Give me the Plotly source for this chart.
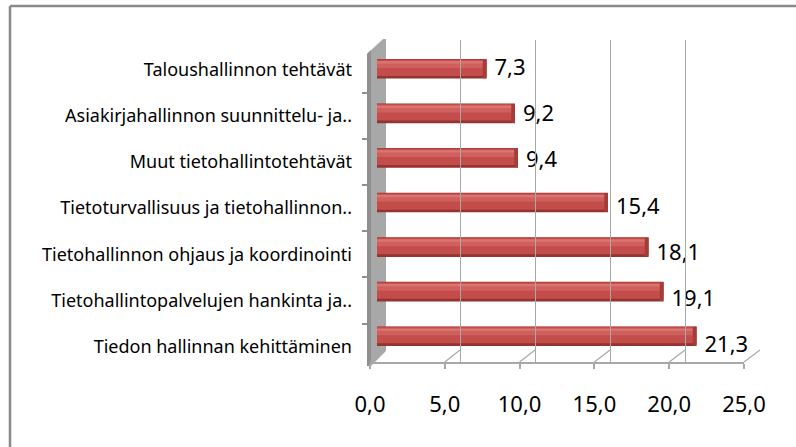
import plotly.graph_objects as go

# ---- data (bottom to top) ----
categories = [
    "Tiedon hallinnan kehittäminen",
    "Tietohallintopalvelujen hankinta ja..",
    "Tietohallinnon ohjaus ja koordinointi",
    "Tietoturvallisuus ja tietohallinnon..",
    "Muut tietohallintotehtävät",
    "Asiakirjahallinnon suunnittelu- ja..",
    "Taloushallinnon tehtävät",
]
values = [21.3, 19.1, 18.1, 15.4, 9.4, 9.2, 7.3]
x_ticks = [0, 5, 10, 15, 20, 25]
value_text = [f"{v:.1f}".replace(".", ",") for v in values]

W, H = 796, 447
def px_x(x):
    return x / W
def px_y(y):
    return 1 - y / H

FONT = "Noto Sans"
GRID = "#A8A8A8"

fig = go.Figure()

# bar layers (simulated cylinder shading)
layers = [
    ("#94332F", 0.44, -0.22),
    ("#C24D4A", 0.37, -0.16),
    ("#D0605D", 0.16, 0.02),
    ("#DC7471", 0.05, 0.12),
]
for color, w, off in layers:
    fig.add_trace(go.Bar(
        x=values, y=categories, orientation="h",
        marker=dict(color=color, line=dict(width=0)),
        width=w, offset=off, xaxis="x", yaxis="y",
        hoverinfo="skip", showlegend=False,
    ))
# darker end caps
cap = 0.25
fig.add_trace(go.Bar(
    x=[cap] * len(values), base=[v - cap for v in values], y=categories, orientation="h",
    marker=dict(color="#A43C39", line=dict(width=0)),
    width=0.42, offset=-0.21, xaxis="x", yaxis="y",
    hoverinfo="skip", showlegend=False,
))

# value labels
fig.add_trace(go.Scatter(
    x=values, y=categories, mode="text", text=value_text,
    textposition="middle right",
    textfont=dict(family=FONT, size=22, color="#000000"),
    xaxis="x3", yaxis="y2", showlegend=False, hoverinfo="skip", cliponaxis=False,
))
# invisible traces to activate the front and back axes
fig.add_trace(go.Scatter(x=[0, 25], y=[categories[0], categories[-1]], mode="none",
                         xaxis="x2", yaxis="y2", showlegend=False, hoverinfo="skip"))
fig.add_trace(go.Scatter(x=[0, 25], y=[0, 1], mode="none",
                         xaxis="x3", yaxis="y3", showlegend=False, hoverinfo="skip"))

shapes = []
# left wall
shapes.append(dict(
    type="path", xref="paper", yref="paper", layer="below",
    path=(f"M {px_x(367)},{px_y(54)} L {px_x(383)},{px_y(39)} L {px_x(386)},{px_y(39)} "
          f"L {px_x(386)},{px_y(351)} L {px_x(371)},{px_y(366)} L {px_x(367)},{px_y(366)} Z"),
    fillcolor="#A8A8A8", line=dict(width=0),
))
shapes.append(dict(
    type="path", xref="paper", yref="paper", layer="below",
    path=(f"M {px_x(367)},{px_y(54)} L {px_x(371)},{px_y(50)} L {px_x(371)},{px_y(366)} "
          f"L {px_x(367)},{px_y(366)} Z"),
    fillcolor="#8F8F8F", line=dict(width=0),
))
# floor connectors from front ticks to back gridlines
for v in x_ticks:
    shapes.append(dict(
        type="line", xref="paper", yref="paper", layer="below",
        x0=px_x(370 + v * 374 / 25), y0=px_y(362),
        x1=px_x(385 + v * 375 / 25), y1=px_y(350),
        line=dict(color=GRID, width=1.2),
    ))
# outer frame
shapes.append(dict(type="line", xref="paper", yref="paper", x0=px_x(10), x1=1,
                   y0=px_y(6), y1=px_y(6), line=dict(color="#8A8A8A", width=2.5)))
shapes.append(dict(type="line", xref="paper", yref="paper", x0=px_x(10), x1=px_x(10),
                   y0=px_y(6), y1=0, line=dict(color="#8A8A8A", width=2.5)))

fig.update_layout(
    width=W, height=H,
    margin=dict(l=0, r=0, t=0, b=0, pad=0, autoexpand=False),
    paper_bgcolor="white", plot_bgcolor="rgba(0,0,0,0)",
    barmode="overlay",
    separators=", ",
    font=dict(family=FONT, color="#000000"),
    showlegend=False,
    shapes=shapes,
    xaxis=dict(domain=[px_x(377), px_x(752)], range=[0, 25], visible=False, anchor="y",
               automargin=False),
    yaxis=dict(domain=[px_y(358.5), px_y(46.5)], type="category",
               categoryorder="array", categoryarray=categories,
               visible=False, anchor="x", automargin=False),
    xaxis2=dict(domain=[px_x(370), px_x(744)], range=[0, 25], anchor="y2",
                tickvals=x_ticks, tickformat=".1f", showgrid=False, zeroline=False,
                showline=True, linecolor=GRID, linewidth=1.5,
                ticks="outside", ticklen=5, tickcolor=GRID, tickwidth=1.5,
                ticklabelstandoff=17, automargin=False,
                tickfont=dict(family=FONT, size=22, color="#000000")),
    yaxis2=dict(domain=[px_y(362), px_y(54)], type="category",
                categoryorder="array", categoryarray=categories,
                anchor="x2", showgrid=False, zeroline=False, showline=False,
                ticks="outside", ticklen=7, tickcolor="#8F8F8F", tickwidth=1.5,
                tickson="boundaries", ticklabelstandoff=17, automargin=False,
                tickfont=dict(family=FONT, size=18, color="#000000")),
    xaxis3=dict(domain=[px_x(385), px_x(760)], range=[0, 25], anchor="y3",
                tickvals=x_ticks, showticklabels=False, ticks="",
                showgrid=True, gridcolor=GRID, gridwidth=1.2, zeroline=False,
                showline=False, automargin=False),
    yaxis3=dict(domain=[px_y(350), px_y(40)], range=[0, 1], visible=False, anchor="x3",
                automargin=False),
)

fig.write_html("out.html", config={"displayModeBar": False},
               post_script="document.body.style.margin='0';")
